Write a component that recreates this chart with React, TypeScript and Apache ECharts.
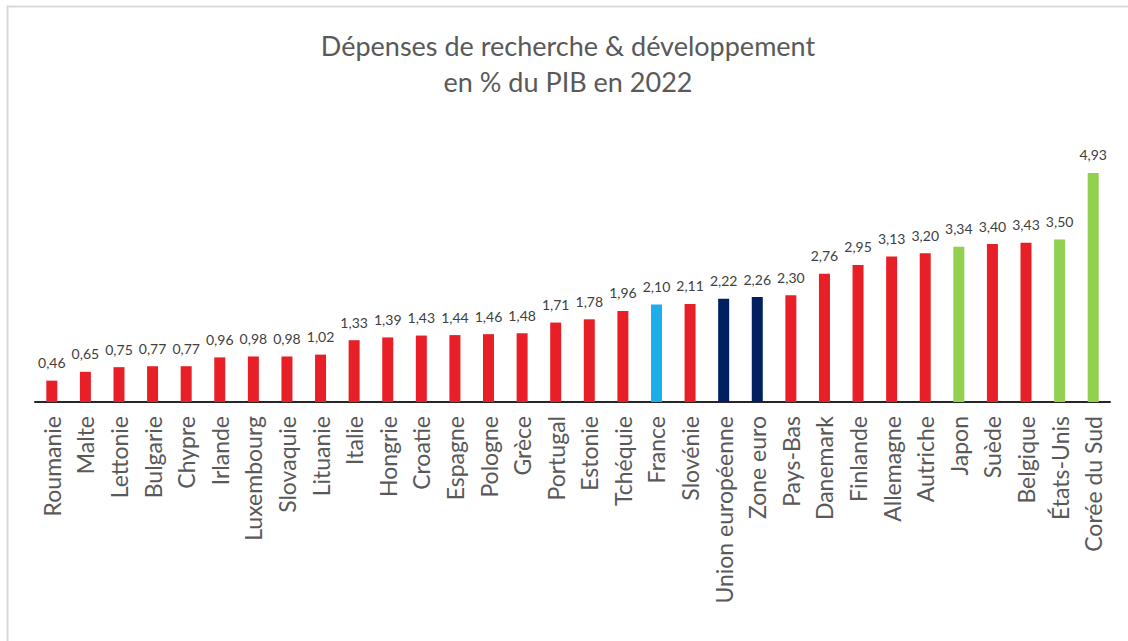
import React, { useEffect, useRef } from "react";
import * as echarts from "echarts";

const categories = [
  "Roumanie", "Malte", "Lettonie", "Bulgarie", "Chypre", "Irlande", "Luxembourg", "Slovaquie",
  "Lituanie", "Italie", "Hongrie", "Croatie", "Espagne", "Pologne", "Grèce", "Portugal",
  "Estonie", "Tchéquie", "France", "Slovénie", "Union européenne", "Zone euro", "Pays-Bas",
  "Danemark", "Finlande", "Allemagne", "Autriche", "Japon", "Suède", "Belgique", "États-Unis",
  "Corée du Sud",
];
const values = [
  0.46, 0.65, 0.75, 0.77, 0.77, 0.96, 0.98, 0.98, 1.02, 1.33, 1.39, 1.43, 1.44, 1.46, 1.48,
  1.71, 1.78, 1.96, 2.10, 2.11, 2.22, 2.26, 2.30, 2.76, 2.95, 3.13, 3.20, 3.34, 3.40, 3.43,
  3.50, 4.93,
];
// group per bar: "eu" red, "fr" blue, "agg" navy, "other" green
const groups = [
  "eu", "eu", "eu", "eu", "eu", "eu", "eu", "eu", "eu", "eu", "eu", "eu", "eu", "eu", "eu",
  "eu", "eu", "eu", "fr", "eu", "agg", "agg", "eu", "eu", "eu", "eu", "eu", "other", "eu", "eu",
  "other", "other",
];
const groupColors: Record<string, string> = {
  eu: "#E81F27",
  fr: "#1BAEEA",
  agg: "#002060",
  other: "#92D050",
};
const titleLines = ["Dépenses de recherche & développement", "en % du PIB en 2022"];

const FONT = "Lato, 'Open Sans', sans-serif";

export default function App() {
  const ref = useRef<HTMLDivElement>(null);
  useEffect(() => {
    if (!ref.current) return;
    const chart = echarts.init(ref.current, undefined, { renderer: "svg" });
    chart.setOption({
      animation: false,
      backgroundColor: "#ffffff",
      title: {
        text: titleLines.join("\n"),
        left: 563,
        textAlign: "center",
        top: 22,
        textStyle: {
          fontFamily: FONT,
          fontSize: 27,
          fontWeight: "normal",
          color: "#595959",
          lineHeight: 36,
        },
      },
      graphic: [
        {
          type: "rect",
          shape: { x: 7.5, y: 6.5, width: 1300, height: 800 },
          style: { fill: "none", stroke: "#D9D9D9", lineWidth: 2 },
          silent: true,
        },
      ],
      grid: { left: 35, right: 18, top: 146.5, height: 255.5, containLabel: false },
      xAxis: {
        type: "category",
        data: categories,
        axisLine: { show: true, lineStyle: { color: "#262626", width: 2 } },
        axisTick: { show: false },
        axisLabel: {
          rotate: 90,
          interval: 0,
          margin: 14,
          fontFamily: FONT,
          fontSize: 23,
          color: "#595959",
        },
      },
      yAxis: {
        type: "value",
        min: 0,
        max: 5.5,
        show: false,
        splitLine: { show: false },
      },
      series: [
        {
          type: "bar",
          barWidth: 11,
          data: values.map((v, i) => ({
            value: v,
            itemStyle: { color: groupColors[groups[i]] },
          })),
          label: {
            show: true,
            position: "top",
            distance: 11,
            fontFamily: FONT,
            fontSize: 14,
            color: "#404040",
            formatter: (p: any) => p.value.toFixed(2).replace(".", ","),
          },
        },
      ],
    });
    return () => chart.dispose();
  }, []);
  return (
    <div
      ref={ref}
      style={{ position: "fixed", left: 0, top: 0, width: 1128, height: 641 }}
    />
  );
}
